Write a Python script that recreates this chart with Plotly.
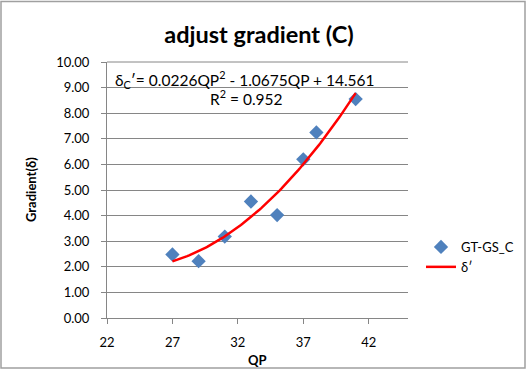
import numpy as np
import plotly.graph_objects as go

qp = [27, 29, 31, 33, 35, 37, 38, 41]
gradient = [2.48, 2.22, 3.18, 4.55, 4.02, 6.20, 7.25, 8.55]
coeffs = [0.0226, -1.0675, 14.561]  # trendline coefficients shown on chart
r2 = 0.952
x_ticks = [22, 27, 32, 37, 42]
y_ticks = [0, 1, 2, 3, 4, 5, 6, 7, 8, 9, 10]

W, H = 529, 369
L, R, T, B = 107, 408, 62, 318
pw, ph = R - L, B - T

def px(x):
    return (x - L) / pw

def py(y):
    return (B - y) / ph

xs = np.linspace(min(qp), max(qp), 100)
ys = np.polyval(coeffs, xs)

FONT = "Lato, Carlito, Liberation Sans, sans-serif"

fig = go.Figure()
fig.add_trace(go.Scatter(
    x=qp, y=gradient, mode="markers", name="GT-GS_C",
    marker=dict(symbol="diamond", size=11, color="#4F81BD"),
))
fig.add_trace(go.Scatter(
    x=xs, y=ys, mode="lines", name="δ′",
    line=dict(color="#FF0000", width=2.5),
))

fig.update_layout(
    width=W, height=H,
    margin=dict(l=L, r=W - R, t=T, b=H - B, autoexpand=False),
    paper_bgcolor="white", plot_bgcolor="white",
    font=dict(family=FONT, size=13, color="#000000"),
    title=dict(text="<b>adjust gradient (C)</b>", x=px(259), xref="paper",
               xanchor="center", y=1 - 35 / H, yanchor="middle",
               font=dict(size=23.5, family=FONT)),
    showlegend=True,
    legend=dict(x=px(421), y=py(232), xanchor="left", yanchor="top",
                bgcolor="rgba(0,0,0,0)", font=dict(size=13, family=FONT),
                itemwidth=30, tracegroupgap=4),
    xaxis=dict(range=[22, 45], tickvals=x_ticks, ticktext=[str(v) for v in x_ticks],
               showgrid=False, zeroline=False, showline=True, linecolor="#868686",
               linewidth=1, ticks="outside", ticklen=5, tickcolor="#868686",
               ticklabelstandoff=7, automargin=False,
               tickfont=dict(size=13)),
    yaxis=dict(range=[0, 10], tickvals=y_ticks, ticktext=[f"{v:.2f}" for v in y_ticks],
               showgrid=True, gridcolor="#868686", gridwidth=1, zeroline=False,
               showline=True, linecolor="#868686", linewidth=1, ticks="outside",
               ticklen=5, tickcolor="#868686", tickfont=dict(size=13),
               ticklabelstandoff=9, automargin=False),
    shapes=[
        dict(type="rect", xref="paper", yref="paper", x0=px(1), x1=px(525),
             y0=py(368), y1=py(1.5), line=dict(color="#A0A0A0", width=1.5),
             fillcolor="rgba(0,0,0,0)", layer="below"),
        dict(type="line", xref="paper", yref="paper", x0=0, x1=1, y0=1, y1=1,
             line=dict(color="#868686", width=1)),
    ],
    annotations=[
        dict(text="δ<sub>C</sub>′= %.4fQP<sup>2</sup> - %.4fQP + %.3f" % (coeffs[0], -coeffs[1], coeffs[2]),
             x=px(245), y=py(79), xref="paper", yref="paper", showarrow=False,
             xanchor="center", yanchor="middle", font=dict(size=15.5, family=FONT)),
        dict(text="R<sup>2</sup> = %.3f" % r2,
             x=px(246), y=py(97), xref="paper", yref="paper", showarrow=False,
             xanchor="center", yanchor="middle", font=dict(size=15.5, family=FONT)),
        dict(text="<b>QP</b>", x=px(257), y=py(360), xref="paper", yref="paper",
             showarrow=False, xanchor="center", yanchor="middle", font=dict(size=13)),
        dict(text="<b>Gradient(δ)</b>", x=px(31), y=py(190), xref="paper", yref="paper",
             showarrow=False, xanchor="center", yanchor="middle", textangle=-90,
             font=dict(size=13)),
    ],
)

fig.write_html("out.html")
